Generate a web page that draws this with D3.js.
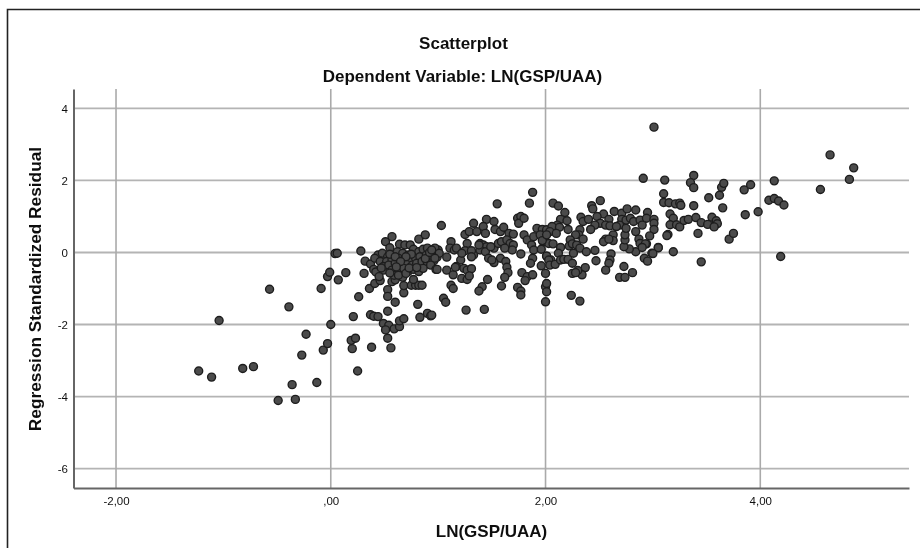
<!DOCTYPE html>
<html>
<head>
<meta charset="utf-8">
<script src="https://cdn.jsdelivr.net/npm/d3@7"></script>
<style>
	html, body { margin: 0; padding: 0; background: #fff; }
	text { font-family: "Liberation Sans", Arial, sans-serif; fill: #111; }
</style>
</head>
<body>
<svg id="chart" width="920" height="548"></svg>
<script>
const xTicks = [-2, 0, 2, 4];
const xTickLabels = ["-2,00", ",00", "2,00", "4,00"];
const yTicks = [4, 2, 0, -2, -4, -6];

// values, same order in both arrays
const lnGspUaa = [
	// low end
	-1.23,-1.11,-1.04,-.82,-.72,-.57,-.39,-.49,-.33,-.36,-.23,-.27,-.13,-.09,-.07,-.03,0,-.03,-.01,.07,.14,.04,.06,.28,.26,.21,.19,.23,.20,.25,
	// x 0.3 - 1
	.31,.38,.56,.53,.49,.54,.51,.59,.64,.64,.68,.37,.40,.44,.53,.60,.81,.83,.90,.93,.53,.53,.68,.68,.36,.41,.46,.75,.79,.82,.85,.77,.57,.60,.67,.32,.37,.40,.42,.49,.45,.51,.57,.82,.88,.64,.69,.74,.55,
	// dense blob
	.44,.48,.53,.62,.67,.72,.77,.82,.86,.90,.96,1.00,.41,.46,.52,.57,.63,.68,.74,.79,.83,.89,.94,.99,.49,.54,.60,.65,.70,.76,.80,.85,.90,.96,.57,.63,.68,.72,.77,.82,.86,.93,.98,.59,.63,.70,.47,.55,.60,.75,.70,.65,.73,.88,.92,.80,.55,.61,
	// x 1 - 2
	1.88,1.85,1.55,1.03,1.33,1.45,1.52,1.25,1.29,1.36,1.42,1.44,1.53,1.58,1.61,1.66,1.70,1.27,1.12,1.11,1.15,1.17,.97,.94,1.01,.97,1.08,1.21,1.25,1.33,1.31,1.39,1.42,1.45,1.39,1.44,1.52,1.56,1.59,1.64,1.67,1.70,1.69,1.62,1.77,1.80,1.83,1.87,1.89,1.92,1.97,2.01,1.95,1.98,2.03,1.89,1.96,1.88,1.86,2.01,2.05,1.96,2.00,
	.99,1.08,1.17,1.14,1.24,1.27,1.31,1.22,1.27,1.29,1.46,1.41,1.38,1.59,1.12,1.14,1.05,1.07,1.26,1.43,.94,1.58,1.47,1.52,1.63,1.64,1.65,1.62,1.74,1.77,1.77,1.78,1.83,1.81,1.88,2.00,2.01,2.01,2.00,1.74,1.77,1.75,1.80,1.50,1.31,1.22,1.38,1.49,1.16,
	// x 2 - 3
	2.91,2.07,2.12,2.18,2.14,2.20,2.11,2.06,2.21,2.13,2.04,2.10,2.33,2.35,2.40,2.43,2.44,2.51,2.64,2.71,2.76,2.84,2.95,2.54,2.59,2.48,2.51,2.56,2.60,2.46,2.42,2.32,2.31,2.28,2.23,2.35,2.22,2.25,2.29,2.32,2.38,2.46,2.14,2.07,1.97,2.01,
	2.71,2.69,2.75,2.79,2.82,2.88,2.94,3.01,3.01,3.01,2.97,2.90,2.84,2.87,2.88,2.94,3.05,2.99,2.84,2.78,2.73,2.74,2.74,2.75,2.66,2.63,2.63,2.56,2.54,2.59,2.92,2.95,2.61,2.60,2.59,2.56,2.47,2.73,2.69,2.74,2.81,2.37,2.34,2.30,2.25,2.28,2.01,2.12,2.03,2.04,2.09,2.14,2.17,2.21,2.25,2.24,2.32,2.26,
	// high end
	3.01,3.11,3.10,3.10,3.15,3.21,3.25,3.26,3.38,3.38,3.35,3.38,3.52,3.62,3.64,3.66,3.65,3.85,3.91,3.86,3.98,4.13,4.08,4.13,4.17,4.22,4.19,4.56,4.65,4.87,4.83,3.71,3.75,3.42,3.45,3.19,3.05,3.00,3.14,3.13,3.16,3.19,3.16,3.22,3.25,3.29,3.33,3.40,3.45,3.51,3.55,3.59,3.60,3.57,2.93,2.90
];
const stdResidual = [
	-3.29,-3.46,-1.89,-3.22,-3.17,-1.02,-1.51,-4.11,-4.08,-3.67,-2.27,-2.85,-3.61,-1,-2.71,-2.53,-2,-.67,-.55,-.76,-.56,-.03,-.02,.04,-1.23,-1.78,-2.44,-2.38,-2.67,-3.29,
	-.58,-2.63,-2.65,-2.38,-1.97,-2.02,-2.15,-2.12,-2.06,-1.90,-1.84,-1.73,-1.77,-1.78,-1.63,-1.38,-1.44,-1.80,-1.69,-1.76,-1.03,-1.22,-1.12,-.92,-1.0,-.86,-.78,-.91,-.91,-.91,-.91,-.75,-.81,-.76,-.69,-.24,-.32,-.47,-.54,-.49,-.67,.30,.44,.37,.49,.23,.21,.21,.13,
	-.07,-.02,-.12,.02,-.02,-.07,.09,.02,.09,.12,.09,.07,-.16,-.25,-.25,-.21,-.16,-.21,-.19,-.16,-.12,-.07,-.10,-.13,-.39,-.35,-.30,-.35,-.32,-.35,-.30,-.25,-.28,-.23,-.49,-.49,-.44,-.53,-.47,-.53,-.44,-.35,-.47,-.63,-.63,-.58,-.43,-.05,-.12,-.05,-.12,-.25,-.43,-.17,0,-.42,-.57,-.40,
	1.67,1.37,1.35,.75,.81,.92,.86,.50,.58,.58,.72,.53,.64,.58,.70,.53,.51,.25,.30,.12,.07,.12,.12,.07,-.02,-.16,-.13,-.21,.05,-.07,.05,.25,.21,.16,.07,.02,.12,.25,.30,.35,.25,.21,.07,.12,-.04,.49,.35,.21,.44,.67,.64,.63,.49,.30,.25,.07,.09,-.16,-.30,-.10,-.21,-.37,-.58,
	-.47,-.49,-.39,-.62,-.44,-.49,-.45,-.72,-.75,-.65,-.75,-.95,-1.07,-.93,-.91,-1.0,-1.27,-1.38,-1.6,-1.58,-1.74,-.16,-.16,-.28,-.25,-.41,-.56,-.69,-.97,-1.07,-1.18,-.56,-.67,-.78,-.62,-.95,-.86,-1.09,-1.37,.95,1.0,.81,.95,-.21,-.12,-.02,.21,.16,-.41,
	2.06,1.37,1.29,1.11,.92,.88,.76,.72,.64,.70,.58,.53,.98,.86,.92,1.30,1.21,1.44,1.14,1.09,1.21,1.18,1.11,1.07,.92,1.0,.81,.76,.74,.76,.64,.63,.49,.49,.35,.37,.18,.24,.21,.12,.02,.06,.14,.24,.33,.49,
	.92,.76,.90,.95,.86,.90,.95,.92,.81,.64,.46,.76,.58,.37,.25,.24,.14,-.02,.02,.10,.16,.35,.49,.67,.72,.49,.33,.37,.30,.37,-.16,-.24,-.04,-.21,-.30,-.49,-.23,-.39,-.69,-.69,-.56,-.42,-.62,-.50,-.58,-.56,-.10,-.02,-.21,-.35,-.33,-.21,-.19,-.19,-.30,-1.19,-1.35,-.02,
	3.48,2.01,1.63,1.39,1.38,1.35,1.37,1.31,1.30,2.14,1.94,1.80,1.52,1.59,1.81,1.92,1.24,1.74,1.88,1.05,1.13,1.99,1.45,1.50,1.43,1.32,-.11,1.75,2.71,2.35,2.03,.37,.53,.53,-.26,.02,.13,-.03,.50,.47,1.07,.95,.77,.77,.71,.89,.92,.97,.83,.78,.98,.88,.80,.71,.24,.14
];

const width = 920, height = 548;
const plot = { left: 73.5, right: 909, top: 89, bottom: 488 };

// -2 sits on pixel 116, 4 on 760.5; 4 on 109, -6 on 469
const xScale = d3.scaleLinear().domain([-2.396, 5.385]).range([plot.left, plot.right]);
const yScale = d3.scaleLinear().domain([4.54, -6.54]).range([plot.top, plot.bottom]);

const svg = d3.select("#chart");
svg.append("defs").append("filter").attr("id", "soft")
	.attr("x", 0).attr("y", 0).attr("width", "100%").attr("height", "100%")
	.append("feGaussianBlur").attr("stdDeviation", 0.5);

const root = svg.append("g").attr("filter", "url(#soft)");
root.append("rect").attr("width", width).attr("height", height).attr("fill", "#fff");

// frame, only top and left
root.append("path")
	.attr("d", "M7.5,548V9.5H920")
	.attr("fill", "none").attr("stroke", "#222").attr("stroke-width", 1.6);

// grid
root.append("g").selectAll("line").data(yTicks).join("line")
	.attr("x1", plot.left).attr("x2", plot.right)
	.attr("y1", d => yScale(d)).attr("y2", d => yScale(d))
	.attr("stroke", "#b4b4b4").attr("stroke-width", 1.8);
root.append("g").selectAll("line").data(xTicks).join("line")
	.attr("x1", d => xScale(d)).attr("x2", d => xScale(d))
	.attr("y1", plot.top).attr("y2", plot.bottom)
	.attr("stroke", "#aaa").attr("stroke-width", 1.6);

// axes
const xAxis = d3.axisBottom(xScale).tickValues(xTicks).tickSize(0).tickPadding(9)
	.tickFormat((d, i) => xTickLabels[i]);
const yAxis = d3.axisLeft(yScale).tickValues(yTicks).tickSize(0).tickPadding(5.5)
	.tickFormat(d => String(d));

const gx = root.append("g").attr("transform", `translate(0,${plot.bottom})`).call(xAxis);
const gy = root.append("g").attr("transform", `translate(${plot.left},0)`).call(yAxis);
[gx, gy].forEach(g => {
	g.selectAll("text").attr("font-size", 11.5).style("font-family", '"Liberation Sans", Arial, sans-serif').attr("fill", "#111");
	g.select(".domain").attr("stroke", "#666").attr("stroke-width", 2);
});

// points
root.append("g").selectAll("circle").data(d3.range(lnGspUaa.length)).join("circle")
	.attr("cx", i => xScale(lnGspUaa[i]))
	.attr("cy", i => yScale(stdResidual[i]))
	.attr("r", 4)
	.attr("fill", "#4b4b4b")
	.attr("stroke", "#1f1f1f")
	.attr("stroke-width", 1.4);

// titles
root.append("text").attr("x", 463.5).attr("y", 49).attr("text-anchor", "middle")
	.attr("font-size", 17).attr("font-weight", "bold").text("Scatterplot");
root.append("text").attr("x", 462.5).attr("y", 82).attr("text-anchor", "middle")
	.attr("font-size", 17).attr("font-weight", "bold").text("Dependent Variable: LN(GSP/UAA)");
root.append("text").attr("x", 491.5).attr("y", 537).attr("text-anchor", "middle")
	.attr("font-size", 17).attr("font-weight", "bold").text("LN(GSP/UAA)");
root.append("text").attr("transform", "translate(41,289) rotate(-90)").attr("text-anchor", "middle")
	.attr("font-size", 17.3).attr("font-weight", "bold").text("Regression Standardized Residual");
</script>
</body>
</html>
